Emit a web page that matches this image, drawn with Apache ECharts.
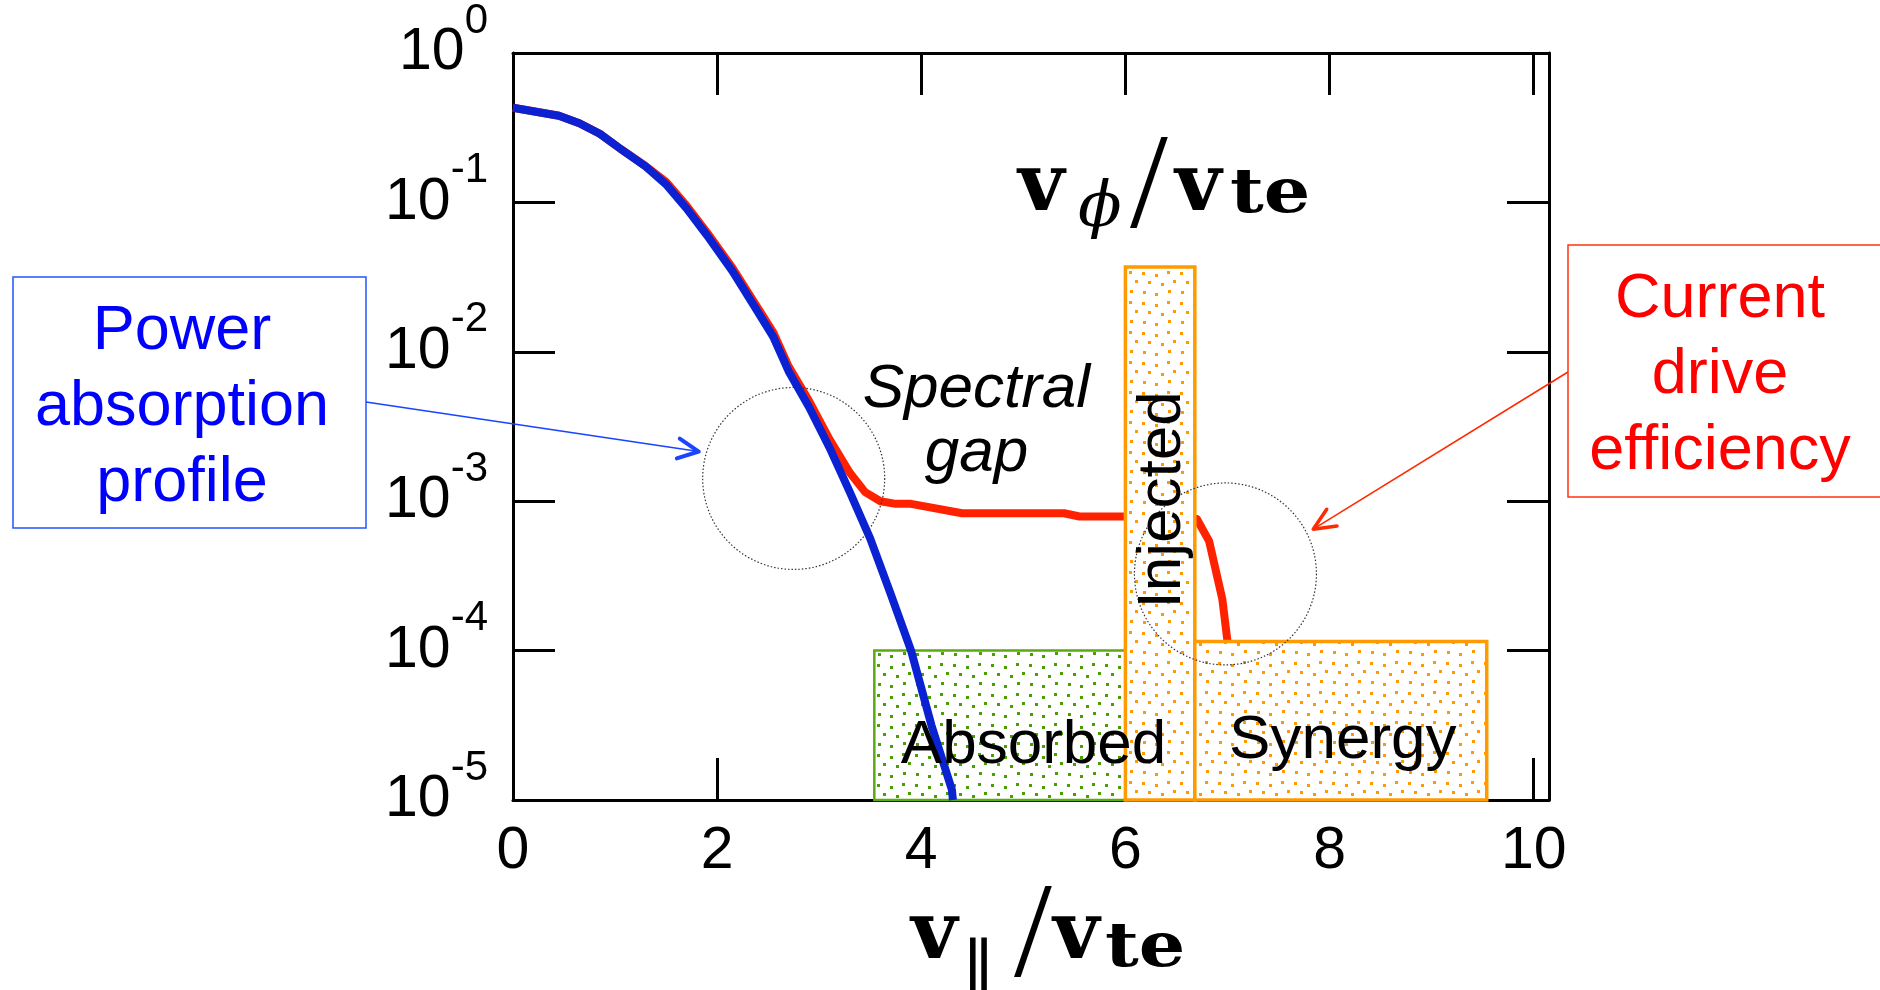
<!DOCTYPE html>
<html>
<head>
<meta charset="utf-8">
<script src="https://cdn.jsdelivr.net/npm/echarts@6/dist/echarts.min.js"></script>
<style>
  html, body { margin: 0; padding: 0; background: #ffffff; }
  #chart { width: 1880px; height: 990px; }
</style>
</head>
<body>
<div id="chart"></div>
<script>
// Power absorption profile vs v_parallel / v_te
const absorptionX = [0, 0.45, 0.65, 0.85, 1.05, 1.3, 1.5, 1.7, 1.9, 2.15, 2.35, 2.55, 2.7, 2.9, 3.1, 3.3, 3.5, 3.7, 3.9, 4.1, 4.3, 4.31];
const absorptionY = [0.43, 0.38, 0.339, 0.288, 0.229, 0.174, 0.132, 0.0912, 0.0603, 0.0347, 0.0209, 0.0126, 0.00741, 0.00427, 0.00229, 0.00115, 0.000562, 0.00024, 0.0001, 0.0000316, 0.0000117, 0.00001];

// Current drive efficiency vs v_parallel / v_te
const efficiencyX = [0, 0.45, 0.65, 0.85, 1.05, 1.3, 1.5, 1.7, 1.9, 2.15, 2.35, 2.55, 2.7, 2.9, 3.1, 3.3, 3.45, 3.6, 3.75, 3.9, 4.4, 5.4, 5.55, 6.05, 6.7, 6.82, 6.95, 7.0];
const efficiencyY = [0.43, 0.38, 0.339, 0.288, 0.229, 0.175, 0.137, 0.095, 0.063, 0.0365, 0.0222, 0.0135, 0.008, 0.0047, 0.0026, 0.00155, 0.00115, 0.001, 0.00096, 0.00096, 0.00083, 0.00083, 0.00079, 0.00079, 0.00076, 0.00054, 0.00022, 0.000115];

// Spectral regions (start, end, top value)
const regionNames = ['Absorbed', 'Injected', 'Synergy'];
const regionStart = [3.54, 6.0, 6.68];
const regionEnd = [6.0, 6.68, 9.54];
const regionTop = [0.0001, 0.037, 0.000115];

// Axis tick labels
const xTickLabels = ['0', '2', '4', '6', '8', '10'];
const yTickExponents = ['-5', '-4', '-3', '-2', '-1', '0'];

const X_MIN = 0, X_MAX = 10.15, Y_MIN = 1e-5, Y_MAX = 1;

// stipple tiles for the region fills
function stipple(color, w, h, dots, size) {
  const c = document.createElement('canvas');
  c.width = w; c.height = h;
  const g = c.getContext('2d');
  g.fillStyle = '#ffffff';
  g.fillRect(0, 0, w, h);
  g.fillStyle = color;
  dots.forEach(d => g.fillRect(d[0], d[1], size[0], size[1]));
  return c;
}
const stippleDots = [[2, 2], [15, 4], [27, 1], [8, 11], [21, 13], [33, 10], [3, 21], [15, 23], [28, 20]];
const orangeTile = stipple('#ff9900', 38, 30, stippleDots, [3, 3]);
const greenTile = stipple('#48a000', 38, 30, stippleDots.map(d => [d[0] + 1, d[1] + 2]), [3, 3]);
const regionFill = [greenTile, orangeTile, orangeTile];
const regionStroke = ['#5aaa10', '#ff9a00', '#ff9a00'];
const regionStrokeWidth = [2.5, 3.5, 3.5];

const chart = echarts.init(document.getElementById('chart'), null, { renderer: 'canvas' });

const axisLineStyle = { color: '#000', width: 3 };
const tickStyle = { show: true, inside: true, length: 42, lineStyle: { color: '#000', width: 3 } };
const sansFont = 'Liberation Sans, Arial, Helvetica, sans-serif';

chart.setOption({
  animation: false,
  backgroundColor: '#ffffff',
  grid: { left: 513, right: 331, top: 50, bottom: 190, containLabel: false },
  xAxis: [
    {
      type: 'value', position: 'bottom', min: X_MIN, max: X_MAX, interval: 2,
      axisLine: { show: true, onZero: false, lineStyle: axisLineStyle },
      axisTick: tickStyle,
      splitLine: { show: false },
      axisLabel: {
        show: true, margin: 22, color: '#000', fontSize: 59, fontFamily: sansFont,
        showMaxLabel: false,
        formatter: v => xTickLabels[Math.round(v / 2)] || ''
      }
    },
    {
      type: 'value', position: 'top', min: X_MIN, max: X_MAX, interval: 2,
      axisLine: { show: true, onZero: false, lineStyle: axisLineStyle },
      axisTick: tickStyle,
      splitLine: { show: false },
      axisLabel: { show: false }
    }
  ],
  yAxis: [
    {
      type: 'log', logBase: 10, position: 'left', min: Y_MIN, max: Y_MAX, splitNumber: 5,
      axisLine: { show: true, onZero: false, lineStyle: axisLineStyle },
      axisTick: tickStyle,
      minorTick: { show: false },
      splitLine: { show: false },
      axisLabel: {
        show: true, margin: 25, color: '#000',
        formatter: v => {
          const e = Math.round(Math.log10(v));
          return '{b|10}{s|' + yTickExponents[e + 5] + '}';
        },
        rich: {
          b: { fontSize: 59, lineHeight: 106, fontFamily: sansFont, color: '#000', verticalAlign: 'middle' },
          s: { fontSize: 42, lineHeight: 42, fontFamily: sansFont, color: '#000', verticalAlign: 'top', padding: [0, 0, 0, 0] }
        }
      }
    },
    {
      type: 'log', logBase: 10, position: 'right', min: Y_MIN, max: Y_MAX, splitNumber: 5,
      axisLine: { show: true, onZero: false, lineStyle: axisLineStyle },
      axisTick: tickStyle,
      minorTick: { show: false },
      splitLine: { show: false },
      axisLabel: { show: false }
    }
  ],
  series: [
    {
      name: 'Current drive efficiency', type: 'line', z: 2,
      xAxisIndex: 0, yAxisIndex: 0,
      showSymbol: false, symbol: 'none', smooth: false,
      lineStyle: { color: '#ff2200', width: 8, join: 'round' },
      data: efficiencyX.map((x, i) => [x, efficiencyY[i]])
    },
    {
      name: 'Regions', type: 'custom', z: 3,
      xAxisIndex: 0, yAxisIndex: 0,
      encode: { x: [0, 1], y: 2 },
      data: regionNames.map((n, i) => [regionStart[i], regionEnd[i], regionTop[i], i]),
      renderItem: (params, api) => {
        const i = api.value(3);
        const p0 = api.coord([api.value(0), api.value(2)]);
        const p1 = api.coord([api.value(1), Y_MIN]);
        return {
          type: 'rect',
          shape: { x: p0[0], y: p0[1], width: p1[0] - p0[0], height: p1[1] - p0[1] },
          style: {
            fill: { image: regionFill[i], repeat: 'repeat' },
            stroke: regionStroke[i],
            lineWidth: regionStrokeWidth[i]
          }
        };
      }
    },
    {
      name: 'Power absorption profile', type: 'line', z: 4,
      xAxisIndex: 0, yAxisIndex: 0,
      showSymbol: false, symbol: 'none', smooth: false,
      lineStyle: { color: '#0a22d2', width: 8, join: 'round' },
      data: absorptionX.map((x, i) => [x, absorptionY[i]])
    }
  ]
});

// ---- annotations ----
const px = (x, y) => chart.convertToPixel({ xAxisIndex: 0, yAxisIndex: 0 }, [x, y]);

const gapCircle = px(2.75, 1.42e-3);
const synergyCircle = px(6.98, 3.26e-4);
const blueTip = px(1.82, 2.15e-3);
const redTip = px(7.84, 6.5e-4);
const blueTail = [366, 402];
const redTail = [1568, 372];
const spectralPos = px(4.54, 3.4e-3);
const absorbedPos = px(5.1, 2.3e-5);
const injectedPos = px(6.37, 1.02e-3);
const synergyPos = px(8.13, 2.5e-5);

function headPoints(tip, tail, len, ang) {
  const a = Math.atan2(tip[1] - tail[1], tip[0] - tail[0]);
  return [
    [tip[0] - len * Math.cos(a - ang), tip[1] - len * Math.sin(a - ang)],
    tip,
    [tip[0] - len * Math.cos(a + ang), tip[1] - len * Math.sin(a + ang)]
  ];
}

const serifFont = 'DejaVu Serif, serif';
const thinSerif = 'Liberation Serif, Times New Roman, serif';

// math-style label built from pieces placed relative to (left, baseline)
function mathTitle(left, baseline, pieces) {
  return {
    type: 'group', x: left, y: baseline, z: 120,
    children: pieces.map(p => ({
      type: 'text', x: p.dx, y: p.dy, scaleX: p.sx || 1, z: 120,
      style: {
        text: p.t, x: 0, y: 0, fill: '#000',
        font: p.font, align: 'left', verticalAlign: 'middle'
      }
    }))
  };
}

const vFont = 'bold 80px ' + serifFont;
const teFont = 'bold 62px ' + serifFont;
const slashFont = '136px ' + thinSerif;

const annotations = [
  // dotted circles
  { type: 'circle', z: 110, shape: { cx: gapCircle[0], cy: gapCircle[1], r: 91 },
    style: { fill: 'none', stroke: '#333', lineWidth: 1.2, lineDash: [1.5, 2] } },
  { type: 'circle', z: 110, shape: { cx: synergyCircle[0], cy: synergyCircle[1], r: 91 },
    style: { fill: 'none', stroke: '#333', lineWidth: 1.2, lineDash: [1.5, 2] } },

  // blue call-out box
  { type: 'rect', z: 110, shape: { x: 13, y: 277, width: 353, height: 251 },
    style: { fill: '#fff', stroke: '#2255ff', lineWidth: 1.5 } },
  { type: 'text', z: 111, x: 182, y: 408,
    style: { text: 'Power\nabsorption\nprofile', fill: '#0000ff', font: '63px ' + sansFont,
      align: 'center', verticalAlign: 'middle', lineHeight: 76 } },
  { type: 'line', z: 111, shape: { x1: blueTail[0], y1: blueTail[1], x2: blueTip[0], y2: blueTip[1] },
    style: { stroke: '#1a44ff', lineWidth: 1.6 } },
  { type: 'polyline', z: 111, shape: { points: headPoints(blueTip, blueTail, 23, 0.45) },
    style: { stroke: '#1a44ff', lineWidth: 4, fill: 'none', lineCap: 'round', lineJoin: 'round' } },

  // red call-out box
  { type: 'rect', z: 110, shape: { x: 1568, y: 245, width: 340, height: 252 },
    style: { fill: '#fff', stroke: '#ff3311', lineWidth: 1.5 } },
  { type: 'text', z: 111, x: 1720, y: 376,
    style: { text: 'Current\ndrive\nefficiency', fill: '#ff0000', font: '63px ' + sansFont,
      align: 'center', verticalAlign: 'middle', lineHeight: 76 } },
  { type: 'line', z: 111, shape: { x1: redTail[0], y1: redTail[1], x2: redTip[0], y2: redTip[1] },
    style: { stroke: '#ff2a00', lineWidth: 1.6 } },
  { type: 'polyline', z: 111, shape: { points: headPoints(redTip, redTail, 24, 0.42) },
    style: { stroke: '#ff2a00', lineWidth: 3.5, fill: 'none', lineCap: 'round', lineJoin: 'round' } },

  // region and gap labels
  { type: 'text', z: 112, x: spectralPos[0], y: spectralPos[1],
    style: { text: 'Spectral\ngap', fill: '#000', font: 'italic 62px ' + sansFont,
      align: 'center', verticalAlign: 'middle', lineHeight: 64 } },
  { type: 'text', z: 112, x: absorbedPos[0], y: absorbedPos[1],
    style: { text: regionNames[0], fill: '#000', font: '62px ' + sansFont, align: 'center', verticalAlign: 'middle' } },
  { type: 'text', z: 112, x: injectedPos[0], y: injectedPos[1], rotation: Math.PI / 2,
    style: { text: regionNames[1], fill: '#000', font: '62px ' + sansFont, align: 'center', verticalAlign: 'middle' } },
  { type: 'text', z: 112, x: synergyPos[0], y: synergyPos[1],
    style: { text: regionNames[2], fill: '#000', font: '62px ' + sansFont, align: 'center', verticalAlign: 'middle' } },

  // phase velocity label inside the plot
  mathTitle(1018, 217, [
    { t: 'v', dx: 0, dy: -28, font: vFont },
    { t: '\u03D5', dx: 60, dy: -8, font: 'italic 64px ' + serifFont },
    { t: '/', dx: 112, dy: -26, font: slashFont },
    { t: 'v', dx: 157, dy: -28, font: vFont },
    { t: 'te', dx: 212, dy: -21, font: teFont, sx: 1.18 }
  ]),

  // x-axis title
  mathTitle(911, 965, [
    { t: 'v', dx: 0, dy: -28, font: vFont },
    { t: '\u2016', dx: 50, dy: 8, font: '70px ' + serifFont },
    { t: '/', dx: 103, dy: -25, font: slashFont },
    { t: 'v', dx: 142, dy: -28, font: vFont },
    { t: 'te', dx: 194, dy: -15, font: teFont, sx: 1.18 }
  ])
];

chart.setOption({ graphic: { elements: annotations } });
</script>
</body>
</html>
